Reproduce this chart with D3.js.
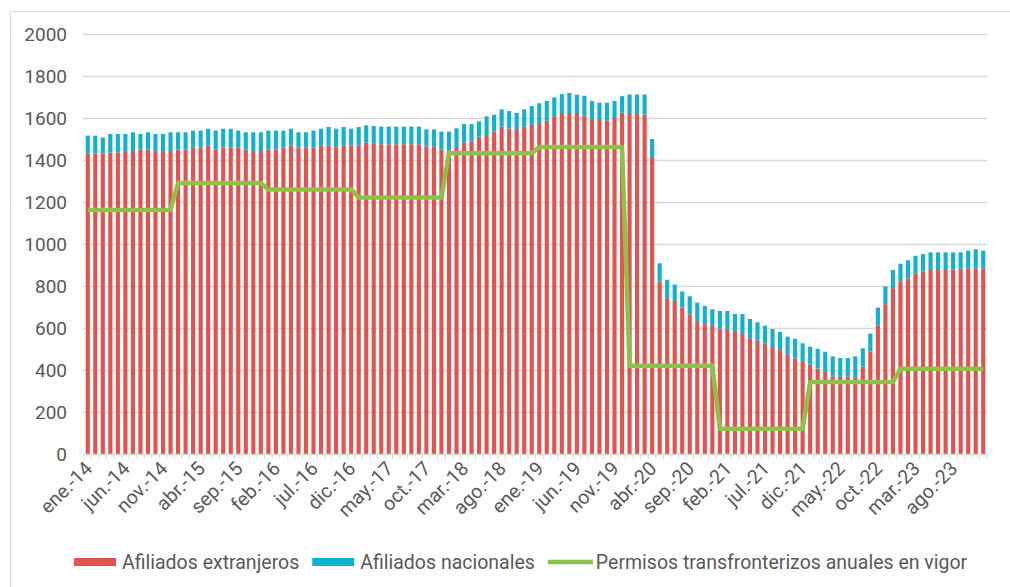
<!DOCTYPE html>
<html>
<head>
<meta charset="utf-8">
<script src="https://cdn.jsdelivr.net/npm/d3@7"></script>
<style>
  html, body { margin: 0; padding: 0; background: #fff; }
  svg { display: block; font-family: Roboto, "Noto Sans", sans-serif; }
</style>
</head>
<body>
<svg id="chart" width="1010" height="587"></svg>
<script>
// ============================================================
//  Data (monthly, ene-14 .. dic-23)
// ============================================================

const monthNames = ['ene.', 'feb.', 'mar.', 'abr.', 'may.', 'jun.', 'jul.', 'ago.', 'sep.', 'oct.', 'nov.', 'dic.'];
const years = ['14', '15', '16', '17', '18', '19', '20', '21', '22', '23'];

const extranjeros = [
  1430, 1430, 1430, 1436, 1436, 1443, 1443, 1450, 1450, 1443, 1443, 1443,
  1450, 1450, 1460, 1460, 1468, 1450, 1460, 1460, 1460, 1450, 1443, 1443,
  1450, 1450, 1460, 1468, 1460, 1460, 1460, 1468, 1468, 1460, 1468, 1468,
  1468, 1484, 1477, 1475, 1475, 1475, 1475, 1475, 1475, 1465, 1465, 1450,
  1446, 1462, 1483, 1489, 1511, 1519, 1535, 1559, 1550, 1543, 1559, 1567,
  1576, 1587, 1608, 1624, 1624, 1624, 1611, 1595, 1595, 1587, 1600, 1625,
  1624, 1624, 1616, 1415, 822, 742, 729, 697, 665, 633, 618, 610,
  597, 597, 581, 571, 551, 541, 525, 509, 495, 474, 455, 442,
  425, 407, 394, 370, 367, 370, 366, 417, 488, 611, 713, 790,
  822, 836, 860, 868, 876, 876, 876, 879, 882, 884, 884, 884
];

const nacionales = [
  86, 86, 77, 88, 88, 81, 89, 74, 82, 81, 81, 89,
  82, 82, 80, 80, 81, 90, 89, 89, 80, 82, 89, 89,
  90, 90, 80, 81, 72, 72, 80, 81, 89, 89, 89, 81,
  89, 81, 85, 84, 84, 84, 84, 84, 84, 81, 81, 85,
  89, 89, 88, 82, 73, 89, 81, 82, 83, 81, 82, 90,
  94, 94, 90, 90, 95, 87, 95, 86, 78, 86, 81, 79,
  88, 88, 96, 85, 86, 88, 78, 77, 86, 88, 87, 79,
  84, 84, 86, 96, 92, 86, 86, 86, 86, 85, 94, 85,
  86, 94, 93, 95, 90, 87, 99, 86, 85, 86, 85, 86,
  84, 86, 84, 84, 84, 84, 84, 81, 78, 84, 91, 84
];

const permisos = [
  1162, 1162, 1162, 1162, 1162, 1162, 1162, 1162, 1162, 1162, 1162, 1162,
  1290, 1290, 1290, 1290, 1290, 1290, 1290, 1290, 1290, 1290, 1290, 1290,
  1260, 1260, 1260, 1260, 1260, 1260, 1260, 1260, 1260, 1260, 1260, 1260,
  1222, 1222, 1222, 1222, 1222, 1222, 1222, 1222, 1222, 1222, 1222, 1222,
  1432, 1432, 1432, 1432, 1432, 1432, 1432, 1432, 1432, 1432, 1432, 1432,
  1462, 1462, 1462, 1462, 1462, 1462, 1462, 1462, 1462, 1462, 1462, 1462,
  420, 420, 420, 420, 420, 420, 420, 420, 420, 420, 420, 420,
  120, 120, 120, 120, 120, 120, 120, 120, 120, 120, 120, 120,
  343, 343, 343, 343, 343, 343, 343, 343, 343, 343, 343, 343,
  406, 406, 406, 406, 406, 406, 406, 406, 406, 406, 406, 406
];

const yTicks = [0, 200, 400, 600, 800, 1000, 1200, 1400, 1600, 1800, 2000];

const seriesNames = ['Afiliados extranjeros', 'Afiliados nacionales', 'Permisos transfronterizos anuales en vigor'];
const colors = { ext: '#e25350', nac: '#12b1cd', perm: '#8bc34a' };

// category labels "ene.-14" ...
const categories = [];
years.forEach(y => monthNames.forEach(m => categories.push(`${m}-${y}`)));

const rows = categories.map((c, i) => ({
  cat: c, ext: extranjeros[i], nac: nacionales[i], perm: permisos[i]
}));

// ============================================================
//  Chart
// ============================================================

const svg = d3.select('#chart');
const grey = '#d9d9d9';
const textCol = '#595959';

svg.append('rect')
  .attr('x', 10.5).attr('y', 11.5)
  .attr('width', 1100).attr('height', 1100)
  .attr('fill', 'none').attr('stroke', grey);

const x = d3.scaleBand()
  .domain(categories)
  .range([84, 987])
  .paddingInner(0.45)
  .paddingOuter(0.225);

const y = d3.scaleLinear().domain([0, 2000]).range([454, 34]);

// gridlines
svg.append('g').selectAll('line')
  .data(yTicks.filter(d => d > 0))
  .join('line')
  .attr('x1', 83).attr('x2', 987)
  .attr('y1', d => Math.round(y(d)) + 0.5).attr('y2', d => Math.round(y(d)) + 0.5)
  .attr('stroke', grey).attr('stroke-width', 1.3);

// y labels
svg.append('g').selectAll('text')
  .data(yTicks)
  .join('text')
  .attr('x', 67).attr('y', d => y(d))
  .attr('dy', '0.36em')
  .attr('text-anchor', 'end')
  .attr('font-size', 19)
  .attr('fill', textCol)
  .text(d => d);

// stacked bars
const stack = d3.stack().keys(['ext', 'nac'])(rows);
svg.append('g').selectAll('g')
  .data(stack)
  .join('g')
  .attr('fill', s => colors[s.key])
  .selectAll('rect')
  .data(s => s)
  .join('rect')
  .attr('x', d => x(d.data.cat))
  .attr('width', x.bandwidth())
  .attr('y', d => y(d[1]))
  .attr('height', d => y(d[0]) - y(d[1]));

// x axis line and ticks
const step = x.step();
const axisG = svg.append('g');
axisG.append('line')
  .attr('x1', 83).attr('x2', 987)
  .attr('y1', 454.5).attr('y2', 454.5)
  .attr('stroke', grey).attr('stroke-width', 1.3);
axisG.selectAll('line.tick')
  .data(categories.concat(['end']))
  .join('line')
  .attr('class', 'tick')
  .attr('x1', (d, i) => 84 + i * step)
  .attr('x2', (d, i) => 84 + i * step)
  .attr('y1', 454).attr('y2', 459)
  .attr('stroke', grey);

// x labels every 5 months, rotated
axisG.selectAll('text')
  .data(categories.filter((d, i) => i % 5 === 0))
  .join('text')
  .attr('transform', d => `translate(${x(d) + x.bandwidth() / 2 - 4}, 460) rotate(-45)`)
  .attr('text-anchor', 'end')
  .attr('dy', '0.7em')
  .attr('font-size', 19.5)
  .attr('fill', textCol)
  .text(d => d);

// permisos line
svg.append('path')
  .datum(rows)
  .attr('fill', 'none')
  .attr('stroke', colors.perm)
  .attr('stroke-width', 4.5)
  .attr('stroke-linejoin', 'round')
  .attr('d', d3.line().x(d => x(d.cat) + x.bandwidth() / 2).y(d => y(d.perm)));

// legend
const legend = svg.append('g');
let lx = 74;
const ly = 562;
[['ext', 'rect'], ['nac', 'rect'], ['perm', 'line']].forEach(([key, kind], i) => {
  if (kind === 'rect') {
    legend.append('rect').attr('x', lx).attr('y', ly - 4).attr('width', 42).attr('height', 8).attr('fill', colors[key]);
  } else {
    legend.append('line').attr('x1', lx).attr('x2', lx + 45).attr('y1', ly).attr('y2', ly)
      .attr('stroke', colors[key]).attr('stroke-width', 4.5);
  }
  const t = legend.append('text')
    .attr('x', lx + 48).attr('y', ly).attr('dy', '0.36em')
    .attr('font-size', 19.5).attr('fill', textCol)
    .text(seriesNames[i]);
  lx += 48 + t.node().getComputedTextLength() + 13;
});
</script>
</body>
</html>
